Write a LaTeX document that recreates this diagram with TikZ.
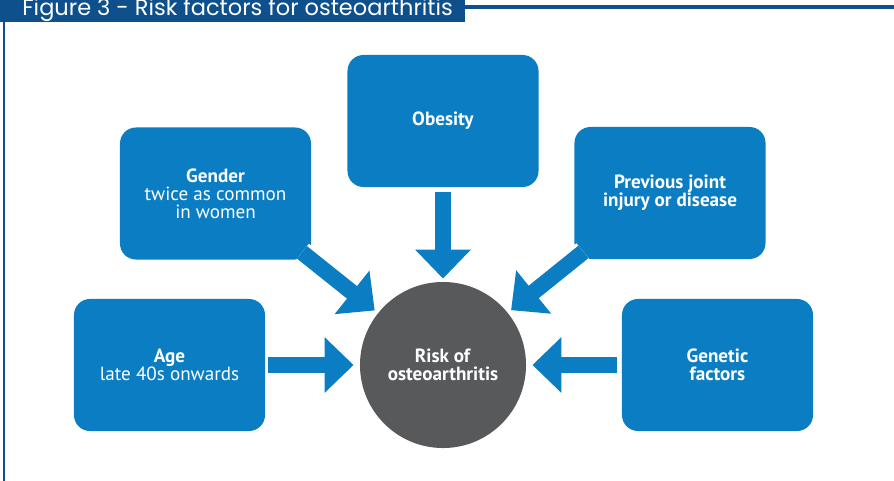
\documentclass[tikz,border=0pt]{standalone}
\usepackage{fontspec}
\setmainfont{PT Sans}
\newfontfamily\titlefont{Poppins}
\usetikzlibrary{arrows.meta}

\definecolor{factorblue}{RGB}{11,125,194}
\definecolor{framenavy}{RGB}{14,80,140}
\definecolor{riskgray}{RGB}{88,89,91}

\tikzset{
  factor/.style={fill=factorblue,rounded corners=0.4cm,minimum width=4.775cm,minimum height=3.3cm,
    text=white,align=center,inner sep=0,font=\fontsize{13.6}{12.9}\selectfont},
  push/.style={draw=factorblue,line width=0.4cm,-{Triangle[width=1.35cm,length=0.725cm]}},
  halo/.style={preaction={draw=white,line width=0.55cm,arrows=-,shorten >=1.2cm}}
}

\begin{document}
\begin{tikzpicture}[x=0.025cm,y=-0.025cm,line width=0.2mm]
\useasboundingbox (0,0) rectangle (894,480);
\clip (0,0) rectangle (894,480);

% frame and title
\fill[framenavy] (0,-5) rectangle (465,22);
\draw[framenavy,line width=0.075cm] (465,7) -- (894,7);
\draw[framenavy,line width=0.05cm] (4,22) -- (4,485);
\node[anchor=base west,text=white,inner sep=0,font=\titlefont\fontsize{16}{18}\selectfont] (title) at (22,15.5) {Figure 3 - Risk factors for osteoarthritis};

% factors
\node[factor] (obesity) at (443,121) {\textbf{Obesity}};
\node[factor] (gender) at (215.5,193.5) {\textbf{Gender}\\twice as common\\in women};
\node[factor] (previous) at (670,193) {\textbf{Previous joint}\\\textbf{injury or disease}};
\node[factor] (age) at (169.5,365) {\textbf{Age}\\late 40s onwards};
\node[factor] (genetic) at (717.5,365) {\textbf{Genetic}\\\textbf{factors}};

% centre
\node[circle,fill=riskgray,minimum size=4.15cm,inner sep=0,text=white,align=center,
  font=\fontsize{13.6}{12.9}\selectfont] (risk) at (443,365) {\textbf{Risk of}\\\textbf{osteoarthritis}};

% arrows
\draw[push,shorten <=0.125cm,shorten >=0.075cm] (obesity) -- (risk); %top
\draw[push,shorten <=0.075cm,shorten >=0.15cm] (age) -- (risk); %left
\draw[push,shorten <=0.125cm,shorten >=0.15cm] (genetic) -- (risk); %right
\draw[push,halo,shorten <=-0.3cm,shorten >=0.1cm] (gender.south east) -- (risk); %upper left
\draw[push,halo,shorten <=-0.3cm,shorten >=0.1cm] (previous.south west) -- (risk); %upper right

\end{tikzpicture}
\end{document}
